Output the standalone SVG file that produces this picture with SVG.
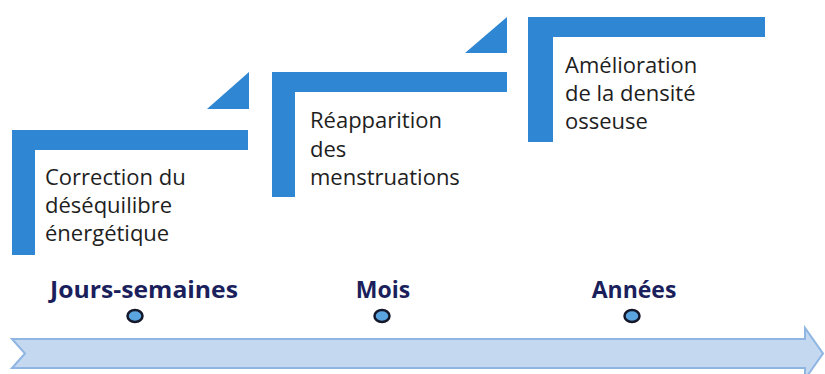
<svg xmlns="http://www.w3.org/2000/svg" width="825" height="374" viewBox="0 0 825 374">
  <style>
    .bar { fill: #2f86d2; }
    .step { font-family: "Open Sans", "Liberation Sans", sans-serif; font-size: 22px; fill: #1e1e1e; }
    .period { font-family: "Open Sans", "Liberation Sans", sans-serif; font-size: 23px; font-weight: bold; fill: #1b1f5c; text-anchor: middle; }
    .dot { fill: #5aa5e0; stroke: #14182a; stroke-width: 2.5; }
    .timeline { fill: #c4d8f0; stroke: #8fb5e3; stroke-width: 2; }
  </style>
  <rect width="825" height="374" fill="#ffffff"/>

  <!-- step 1 -->
  <g id="step-correction">
    <path class="bar" d="M12,130 H248 V150 H35 V255 H12 Z"/>
    <polygon class="bar" points="207,109 249,72 249,109"/>
    <text class="step" x="45" y="185">Correction du</text>
    <text class="step" x="45" y="213">déséquilibre</text>
    <text class="step" x="45" y="241">énergétique</text>
  </g>

  <!-- step 2 -->
  <g id="step-menstruations">
    <path class="bar" d="M272,72 H507 V92 H295 V197 H272 Z"/>
    <polygon class="bar" points="465,53 507,17 507,53"/>
    <text class="step" x="310" y="128">Réapparition</text>
    <text class="step" x="310" y="156.5">des</text>
    <text class="step" x="310" y="185">menstruations</text>
  </g>

  <!-- step 3 -->
  <g id="step-densite">
    <path class="bar" d="M528,17 H765 V37 H553 V142 H528 Z"/>
    <text class="step" x="565" y="73">Amélioration</text>
    <text class="step" x="565" y="101">de la densité</text>
    <text class="step" x="565" y="129">osseuse</text>
  </g>

  <!-- time axis -->
  <g id="connectors">
    <path class="timeline" d="M12,339 H805 V328 L823,353.5 L805,379 V368 H12 L25,353.5 Z"/>
  </g>

  <g id="period-jours">
    <text class="period" x="144" y="298" textLength="188" lengthAdjust="spacingAndGlyphs">Jours-semaines</text>
    <ellipse class="dot" cx="135" cy="316" rx="7.5" ry="6"/>
  </g>
  <g id="period-mois">
    <text class="period" x="383" y="298">Mois</text>
    <ellipse class="dot" cx="382" cy="316" rx="7.5" ry="6"/>
  </g>
  <g id="period-annees">
    <text class="period" x="634" y="298">Années</text>
    <ellipse class="dot" cx="632" cy="316" rx="7.5" ry="6"/>
  </g>
</svg>
